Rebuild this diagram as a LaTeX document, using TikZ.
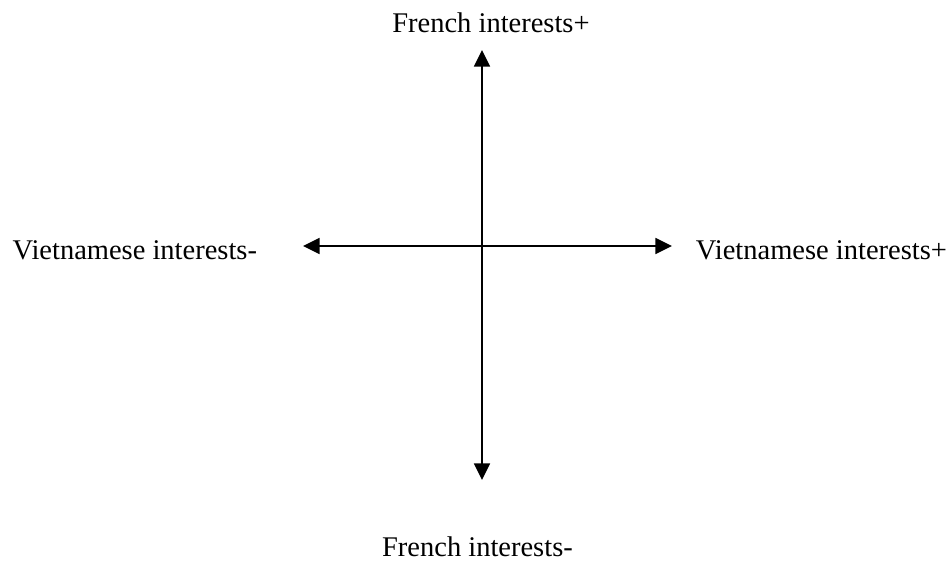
\documentclass[tikz,border=0pt]{standalone}
\usepackage{fontspec}
\setmainfont{Liberation Serif}
\usepackage{tikz}
\usetikzlibrary{arrows.meta}

\begin{document}
\begin{tikzpicture}[>={Triangle[length=7pt,width=6.7pt]}, line width=0.85pt,
        axislabel/.style={font=\fontsize{12}{14}\selectfont, inner sep=0pt}]
        \useasboundingbox (-7.134,-4.662) rectangle (6.956,3.641);
        % Axes end points
        \coordinate (ftop) at (0,2.901);
        \coordinate (fbottom) at (0,-3.463);
        \coordinate (vleft) at (-2.649,0);
        \coordinate (vright) at (2.812,0);
        \draw[<->] (fbottom) -- (ftop);
        \draw[<->] (vleft) -- (vright);
        % Labels
        \node[axislabel, anchor=base] (frenchpos) at (0.133,3.167) {French interests+};
        \node[axislabel, anchor=base] (frenchneg) at (-0.067,-4.588) {French interests-};
        \node[axislabel, anchor=base east] (vietneg) at (-3.315,-0.207) {Vietnamese interests-};
        \node[axislabel, anchor=base west] (vietpos) at (3.152,-0.207) {Vietnamese interests+};
    \end{tikzpicture}
\end{document}
